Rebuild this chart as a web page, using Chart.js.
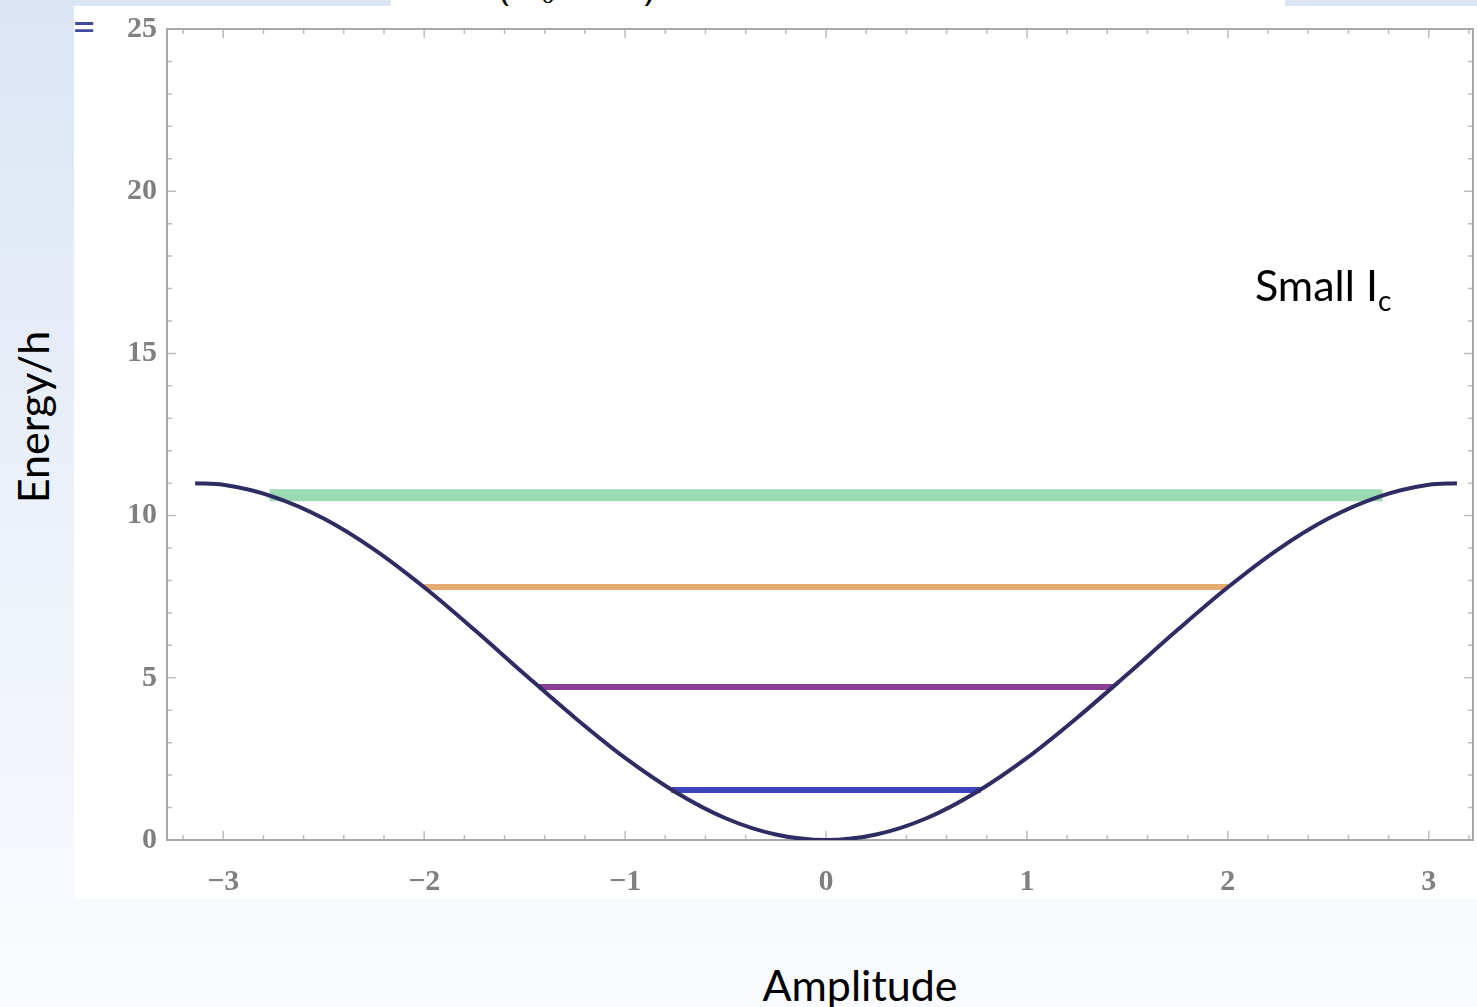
<!DOCTYPE html>
<html lang="en">

<head>
  <meta charset="UTF-8" />
  <title>Energy levels - small Ic</title>
  <script src="https://cdn.jsdelivr.net/npm/chart.js@4.4.1/dist/chart.umd.min.js"></script>
  <style>
    html, body {
      margin: 0;
      padding: 0;
    }
    body {
      width: 1477px;
      height: 1007px;
      position: relative;
      overflow: hidden;
      background: linear-gradient(to bottom, #dbe5f4 0%, #edf2fa 55%, #f9fbfe 100%);
      font-family: 'Lato', 'Open Sans', sans-serif;
    }
    #formula-box {
      position: absolute;
      left: 391px;
      top: 0;
      width: 894px;
      height: 6px;
      background: #fff;
      overflow: hidden;
    }
    #formula-box span {
      position: absolute;
      top: -36px;
      font-family: 'Liberation Serif', serif;
      font-size: 40px;
      color: #000;
    }
    #panel {
      position: absolute;
      left: 74px;
      top: 6px;
      width: 1403px;
      height: 893px;
      background: #fff;
    }
    #chart {
      filter: blur(0.7px);
    }
    .eq {
      position: absolute;
      left: 72px;
      top: 4px;
      font-size: 42px;
      color: #3f4a9c;
      line-height: 42px;
    }
    .label {
      position: absolute;
      color: #000;
      font-size: 43px;
      line-height: 1;
      white-space: nowrap;
    }
    #ylabel {
      left: 32px;
      top: 417px;
      transform: translate(-50%, -50%) rotate(-90deg);
    }
    #xlabel {
      left: 860px;
      top: 963px;
      transform: translateX(-50%);
    }
    #note {
      left: 1255px;
      top: 263px;
    }
    #note sub {
      font-size: 28px;
      vertical-align: -10px;
      line-height: 1;
    }
  </style>
</head>

<body>
  <div id="formula-box">
    <span style="left: 108px;">(</span>
    <span style="left: 150px; font-size: 28px; top: -22px;">0</span>
    <span style="left: 250px;">)</span>
  </div>
  <div id="panel">
    <canvas id="chart" width="1403" height="893"></canvas>
  </div>
  <div class="eq">=</div>
  <div class="label" id="ylabel">Energy/h</div>
  <div class="label" id="xlabel">Amplitude</div>
  <div class="label" id="note">Small I<sub>c</sub></div>

  <script>
    // potential curve (amplitude in rad, energy/h)
    const ampX = [-3.14, -3.0, -2.75, -2.5, -2.25, -2.0, -1.75, -1.5, -1.25, -1.0, -0.75, -0.5, -0.25, 0,
      0.25, 0.5, 0.75, 1.0, 1.25, 1.5, 1.75, 2.0, 2.25, 2.5, 2.75, 3.0, 3.14];
    const potential = [11.0, 10.95, 10.58, 9.91, 8.96, 7.79, 6.48, 5.11, 3.77, 2.53, 1.48, 0.67, 0.17, 0,
      0.17, 0.67, 1.48, 2.53, 3.77, 5.11, 6.48, 7.79, 8.96, 9.91, 10.58, 10.95, 11.0];

    // energy levels: height and where they meet the curve
    const levelEnergy = [1.54, 4.72, 7.80, 10.63];
    const levelLeft = [-0.77, -1.43, -2.0, -2.77];
    const levelRight = [0.77, 1.43, 2.0, 2.77];

    const xTicks = [-3, -2, -1, 0, 1, 2, 3];
    const yTicks = [0, 5, 10, 15, 20, 25];

    const levelColors = ['#3c44bc', '#8a3e92', '#e6ab70', '#9cdab4'];
    const levelWidths = [6, 6, 6, 12];

    const datasets = [{
      label: 'potential',
      data: ampX.map((x, i) => ({ x: x, y: potential[i] })),
      borderColor: '#2e2c62',
      borderWidth: 4,
      pointRadius: 0,
      cubicInterpolationMode: 'monotone',
      fill: false
    }];

    levelEnergy.forEach((e, i) => {
      datasets.push({
        label: 'level ' + i,
        data: [{ x: levelLeft[i], y: e }, { x: levelRight[i], y: e }],
        borderColor: levelColors[i],
        borderWidth: levelWidths[i],
        pointRadius: 0,
        fill: false
      });
    });

    // Mathematica-style frame with inward ticks on all four sides
    const framePlugin = {
      id: 'frame',
      beforeDatasetsDraw(chart) {
        const ctx = chart.ctx;
        const a = chart.chartArea;
        const xs = chart.scales.x;
        const ys = chart.scales.y;
        ctx.save();
        ctx.strokeStyle = '#bdbdbd';
        ctx.lineWidth = 1.5;
        ctx.beginPath();
        for (let v = -3.2; v <= 3.21; v += 0.2) {
          const px = xs.getPixelForValue(v);
          const major = Math.abs(v - Math.round(v)) < 0.01;
          const len = major ? 9 : 5;
          ctx.moveTo(px, a.bottom);
          ctx.lineTo(px, a.bottom - len);
          ctx.moveTo(px, a.top);
          ctx.lineTo(px, a.top + len);
        }
        for (let v = 0; v <= 25; v += 1) {
          const py = ys.getPixelForValue(v);
          const len = v % 5 === 0 ? 9 : 5;
          ctx.moveTo(a.left, py);
          ctx.lineTo(a.left + len, py);
          ctx.moveTo(a.right, py);
          ctx.lineTo(a.right - len, py);
        }
        ctx.stroke();
        ctx.strokeStyle = '#a8a8a8';
        ctx.lineWidth = 2;
        ctx.strokeRect(a.left, a.top, a.right - a.left, a.bottom - a.top);
        ctx.restore();
      }
    };

    const tickFont = { family: 'Liberation Serif', size: 30, weight: 'bold' };

    new Chart(document.getElementById('chart'), {
      type: 'line',
      data: { datasets: datasets },
      options: {
        responsive: false,
        animation: false,
        events: [],
        layout: { padding: { top: 23, right: 4, bottom: 0, left: 0 } },
        plugins: {
          legend: { display: false },
          tooltip: { enabled: false }
        },
        scales: {
          x: {
            type: 'linear',
            min: -3.28,
            max: 3.22,
            afterBuildTicks: (scale) => { scale.ticks = xTicks.map(v => ({ value: v })); },
            afterFit: (scale) => {
              scale.height = 59;
              scale.paddingLeft = 0;
              scale.paddingRight = 0;
            },
            grid: { display: false, drawTicks: false },
            border: { display: false },
            ticks: {
              font: tickFont,
              color: '#808080',
              padding: 24,
              maxRotation: 0,
              callback: (v) => String(v).replace('-', '\u2212')
            }
          },
          y: {
            type: 'linear',
            min: 0,
            max: 25,
            afterBuildTicks: (scale) => { scale.ticks = yTicks.map(v => ({ value: v })); },
            afterFit: (scale) => {
              scale.width = 93;
              scale.paddingTop = 0;
              scale.paddingBottom = 0;
            },
            grid: { display: false, drawTicks: false },
            border: { display: false },
            ticks: {
              font: tickFont,
              color: '#808080',
              padding: 10
            }
          }
        }
      },
      plugins: [framePlugin]
    });
  </script>
</body>

</html>
